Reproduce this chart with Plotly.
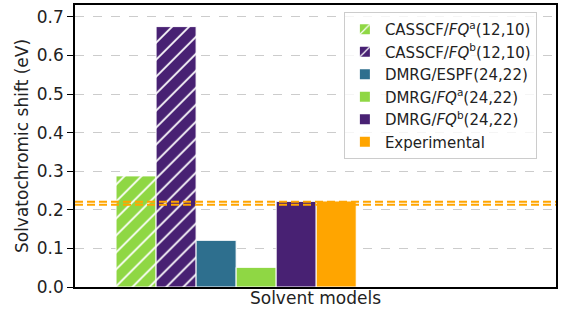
import plotly.graph_objects as go

labels = ["CASSCF/<i>FQ</i><sup>a</sup>(12,10)",
          "CASSCF/<i>FQ</i><sup>b</sup>(12,10)",
          "DMRG/ESPF(24,22)",
          "DMRG/<i>FQ</i><sup>a</sup>(24,22)",
          "DMRG/<i>FQ</i><sup>b</sup>(24,22)",
          "Experimental"]
values = [0.288, 0.675, 0.121, 0.051, 0.222, 0.223]
positions = [0, 1, 2, 3, 4, 5]
colors = ["#8FD744", "#482173", "#2E6F8E", "#8FD744", "#482173", "#FFA500"]
hatched = [True, True, False, False, False, False]
exp_range = [0.213, 0.221]
yticks = [0.0, 0.1, 0.2, 0.3, 0.4, 0.5, 0.6, 0.7]

fig = go.Figure()
for lab, v, p, c, h in zip(labels, values, positions, colors, hatched):
    marker = dict(color=c, line=dict(color="white", width=1))
    if h:
        marker["pattern"] = dict(shape="/", fgcolor="white", bgcolor=c, size=12, solidity=0.15, fillmode="replace")
    fig.add_trace(go.Bar(x=[p], y=[v], name=lab, width=1.0, marker=marker))

for yv in exp_range:
    fig.add_shape(type="line", xref="paper", x0=0, x1=1, yref="y", y0=yv, y1=yv,
                  line=dict(color="#FFA500", width=2, dash="8px,4px"), layer="above")

fig.update_layout(
    width=561, height=312,
    margin=dict(l=75, r=5, t=3, b=25),
    paper_bgcolor="white", plot_bgcolor="white",
    font=dict(family="DejaVu Sans", size=17, color="#222"),
    barmode="overlay",
    showlegend=True,
    legend=dict(x=0.559, y=0.975, xanchor="left", yanchor="top",
                bordercolor="#cccccc", borderwidth=1, bgcolor="rgba(255,255,255,0.8)",
                font=dict(size=15), tracegroupgap=0, itemsizing="constant"),
)
fig.update_xaxes(range=[-1.525, 10.49], showticklabels=False, ticks="",
                 showgrid=False, zeroline=False,
                 showline=True, linecolor="black", linewidth=1.5, mirror=True,
                 title=dict(text="Solvent models", standoff=4, font=dict(size=17)))
fig.update_yaxes(range=[0, 0.731], tickvals=yticks, ticktext=[f"{t:.1f}" for t in yticks],
                 ticks="outside", ticklen=6, tickwidth=1.2, tickcolor="black",
                 tickfont=dict(size=17),
                 showgrid=True, gridcolor="#cccccc", griddash="dash", gridwidth=1,
                 zeroline=False,
                 showline=True, linecolor="black", linewidth=1.5, mirror=True,
                 title=dict(text="Solvatochromic shift (eV)", standoff=4, font=dict(size=17)))

fig.write_html("out.html")
